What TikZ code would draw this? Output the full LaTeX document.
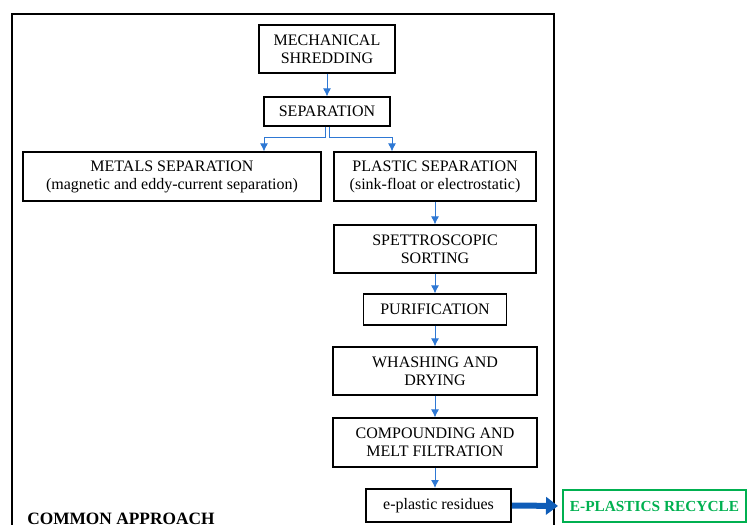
\documentclass[tikz,border=0pt]{standalone}
\usepackage{fontspec}
\setmainfont{Liberation Serif}
\usetikzlibrary{arrows.meta}
\definecolor{flowblue}{HTML}{2E78D4}
\definecolor{thickblue}{HTML}{0F5DB8}
\definecolor{recgreen}{HTML}{00B050}
\tikzset{
  stepbox/.style={draw, line width=0.9pt, align=center, inner sep=0pt,
    font=\fontsize{12}{13.5}\selectfont},
  flow/.style={draw=flowblue, line width=0.75pt, -{Latex[length=6pt,width=6pt]}},
}
\begin{document}
\begin{tikzpicture}[x=0.75pt,y=-0.75pt]
        \useasboundingbox (0,0) rectangle (747,525);
        % 外框
        \draw[line width=1.1pt] (12,14) rectangle (554,545);
        % 上部两步
        \node[stepbox, minimum width=102pt, minimum height=36pt] (shred) at (327,49) {MECHANICAL\\SHREDDING};
        \node[stepbox, minimum width=94.5pt, minimum height=21.75pt] (sep) at (327,111.5) {SEPARATION};
        % 分支
        \node[stepbox, minimum width=223.5pt, minimum height=36.75pt] (metals) at (172,176.5) {METALS SEPARATION\\(magnetic and eddy-current separation)};
        \node[stepbox, minimum width=151.5pt, minimum height=36.75pt] (plastic) at (435,176.5) {PLASTIC SEPARATION\\(sink-float or electrostatic)};
        % 塑料路线
        \node[stepbox, minimum width=151.5pt, minimum height=36pt] (spectro) at (435,249) {SPETTROSCOPIC\\SORTING};
        \node[stepbox, minimum width=107.25pt, minimum height=23.25pt] (purif) at (435,309.5) {PURIFICATION};
        \node[stepbox, minimum width=153pt, minimum height=36pt] (wash) at (435,371) {WHASHING AND\\DRYING};
        \node[stepbox, minimum width=153pt, minimum height=36.75pt] (compound) at (435,442.5) {COMPOUNDING AND\\MELT FILTRATION};
        \node[stepbox, line width=1.5pt, minimum width=108.75pt, minimum height=24.75pt] (resid) at (438.5,505.5) {e-plastic residues};
        \node[stepbox, draw=recgreen, text=recgreen, line width=1.5pt, minimum width=137.25pt, minimum height=24pt,
          font=\bfseries\fontsize{11.5}{13}\selectfont] (recycle) at (654.5,506) {E-PLASTICS RECYCLE};
        \node[anchor=base west, inner sep=0pt, font=\bfseries\fontsize{13}{14}\selectfont] (common) at (27,524) {COMMON APPROACH};
        % 箭头
        \coordinate (metin) at (264,0);
        \coordinate (plain) at (392,0);
        \draw[flow] (shred.south) -- (sep.north);
        \draw[flow] ([xshift=-1.5pt]sep.south) -- ++(0,11) -| (metin |- metals.north);
        \draw[flow] ([xshift=1.5pt]sep.south) -- ++(0,11) -| (plain |- plastic.north);
        \draw[flow] (plastic.south) -- (spectro.north);
        \draw[flow] (spectro.south) -- (purif.north);
        \draw[flow] (purif.south) -- (wash.north);
        \draw[flow] (wash.south) -- (compound.north);
        \draw[flow] (compound.south) -- (compound.south |- resid.north);
        \draw[thickblue, line width=4.5pt, -{Triangle[length=9pt,width=13pt]}, shorten >=3pt] (resid.east) -- (recycle.west);

    \end{tikzpicture}
\end{document}
